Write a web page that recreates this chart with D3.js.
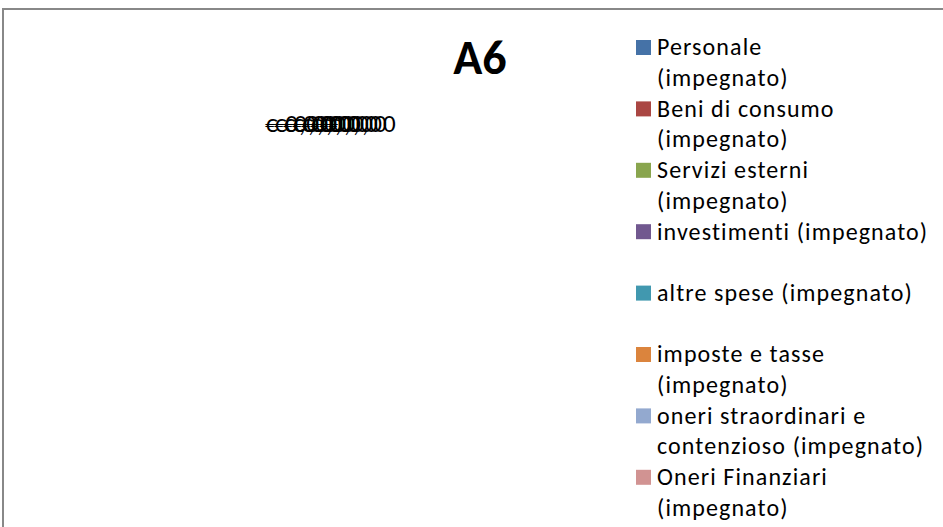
<!DOCTYPE html>
<html>
<head>
<meta charset="utf-8">
<script src="https://cdn.jsdelivr.net/npm/d3@7"></script>
<style>
  body { margin: 0; background: #fff; }
  svg { display: block; font-family: Calibri, Carlito, Lato, "Open Sans", sans-serif; }
</style>
</head>
<body>
<div id="chart"></div>
<script>
var width = 943, height = 527;

// voci di spesa (tutte a zero nel grafico A6)
var categories = [
  "Personale (impegnato)",
  "Beni di consumo (impegnato)",
  "Servizi esterni (impegnato)",
  "investimenti (impegnato)",
  "altre spese (impegnato)",
  "imposte e tasse (impegnato)",
  "oneri straordinari e contenzioso (impegnato)",
  "Oneri Finanziari (impegnato)"
];
var values = [0, 0, 0, 0, 0, 0, 0, 0];
var colors = ["#4572a7", "#aa4643", "#89a54e", "#71588f", "#4198af", "#db843d", "#93a9cf", "#d19392"];
// legend rows as Excel wrapped them
var legendLines = [
  ["Personale", "(impegnato)"],
  ["Beni di consumo", "(impegnato)"],
  ["Servizi esterni", "(impegnato)"],
  ["investimenti (impegnato)", ""],
  ["altre spese (impegnato)", ""],
  ["imposte e tasse", "(impegnato)"],
  ["oneri straordinari e", "contenzioso (impegnato)"],
  ["Oneri Finanziari", "(impegnato)"]
];

var fmt = function (v) { return "€ " + d3.format(".2f")(v).replace(".", ","); };

var svg = d3.select("#chart").append("svg")
  .attr("width", width)
  .attr("height", height);

// chart frame
svg.append("rect")
  .attr("x", 3).attr("y", 9)
  .attr("width", width + 10).attr("height", height + 10)
  .attr("fill", "none")
  .attr("stroke", "#888")
  .attr("stroke-width", 2);

svg.append("text")
  .attr("x", 480).attr("y", 74)
  .attr("text-anchor", "middle")
  .attr("font-size", 48)
  .attr("font-weight", "bold")
  .text("A6");

// pie: all values zero -> no slices, only the labels pile up at angle 0
var cx = 325, cy = 300, r = 160;
var pie = d3.pie().sort(null).value(function (d) { return d; });
var arcs = pie(values);
var arc = d3.arc().innerRadius(0).outerRadius(r);

var g = svg.append("g").attr("transform", "translate(" + cx + "," + cy + ")");

g.selectAll("path")
  .data(arcs)
  .enter()
  .append("path")
    .attr("d", arc)
    .attr("fill", function (d, i) { return colors[i]; });

var labelArc = d3.arc().innerRadius(r + 8).outerRadius(r + 8);
g.selectAll("text.lbl")
  .data(arcs)
  .enter()
  .append("text")
    .attr("class", "lbl")
    .attr("x", function (d, i) { return labelArc.centroid(d)[0] - 60 + i * 9; })
    .attr("y", function (d) { return labelArc.centroid(d)[1]; })
    .attr("font-size", 25)
    .attr("letter-spacing", 1)
    .text(function (d) { return fmt(d.value); });

// legend
var lineH = 30.7;
var rowStart = [0, 2, 4, 6, 8, 10, 12, 14];
var legend = svg.append("g").attr("transform", "translate(636,47)");
var items = legend.selectAll("g")
  .data(categories)
  .enter()
  .append("g")
    .attr("transform", function (d, i) { return "translate(0," + (rowStart[i] * lineH) + ")"; });

items.append("rect")
  .attr("x", 0).attr("y", -7)
  .attr("width", 15).attr("height", 15)
  .attr("fill", function (d, i) { return colors[i]; });

items.append("text")
  .attr("font-size", 24)
  .attr("letter-spacing", 1.1)
  .each(function (d, i) {
    var t = d3.select(this);
    legendLines[i].forEach(function (s, k) {
      if (s) t.append("tspan").attr("x", 21).attr("y", k * lineH).attr("dy", "0.35em").text(s);
    });
  });
</script>
</body>
</html>
